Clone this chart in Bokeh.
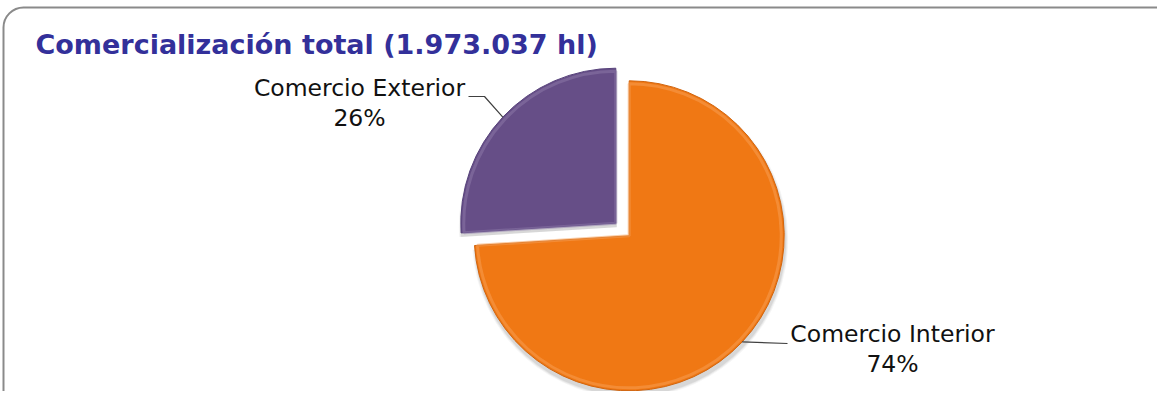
import numpy as np
from bokeh.plotting import figure
from bokeh.models import Range1d
from bokeh.core.properties import value
from bokeh.embed import file_html
from bokeh.resources import INLINE

# ---- data ----
title_text = "Comercialización total (1.973.037 hl)"
categories = ["Comercio Interior", "Comercio Exterior"]
shares = [74, 26]
colors = ["#F07814", "#664E87"]
rim_dark = ["#D0640E", "#56417A"]
rim_light = ["#F8A055", "#8D7AAA"]

# ---- layout (reference pixel coordinates) ----
W, H = 1157, 391


def Y(py):
    return H - py


p = figure(width=W, height=H, output_backend="svg", toolbar_location=None,
           x_range=Range1d(0, W), y_range=Range1d(0, H),
           x_axis_location=None, y_axis_location=None, min_border=0)
p.grid.visible = False
p.outline_line_color = None
p.background_fill_color = "white"
p.border_fill_color = "white"

# rounded frame
p.quad(left=3, right=1182, top=Y(7), bottom=Y(420), fill_color=None,
       line_color="#8A8A8A", line_width=2, border_radius=20)

# pie geometry
vals = np.array(shares, dtype=float)
frac = vals / vals.sum()
cum = np.concatenate([[0], np.cumsum(frac)[:-1]])
start = np.radians(90 - (cum + frac) * 360)
end = np.radians(90 - cum * 360)
mid = (start + end) / 2
base_x, base_y = 622, Y(229)
explode = 9.2
R = 155
cx = base_x + explode * np.cos(mid)
cy = base_y + explode * np.sin(mid)

# soft shadow
for k, a in [(6, 0.04), (4, 0.05), (2, 0.07)]:
    p.wedge(x=cx + 1, y=cy - 4, radius=R + k * 0.5, start_angle=start, end_angle=end,
            fill_color="black", fill_alpha=a, line_color=None)

# slices with a light bevel
p.wedge(x=cx, y=cy, radius=R, start_angle=start, end_angle=end,
        fill_color=colors, line_color=rim_dark, line_width=1)
p.wedge(x=cx, y=cy, radius=R - 3, start_angle=start, end_angle=end,
        fill_color=None, line_color=rim_light, line_width=3, line_alpha=0.5)

# labels
label_pos = {"Comercio Interior": (892, 333), "Comercio Exterior": (359, 87)}
line_gap = 30
for i, cat in enumerate(categories):
    lx, ly = label_pos[cat]
    p.text(x=[lx, lx], y=[Y(ly), Y(ly + line_gap)],
           text=[cat, f"{shares[i]}%"], text_align="center", text_baseline="middle",
           text_font=value("DejaVu Sans"), text_font_size="23.5px", text_color="#111111")

# leader lines from the arc mid-points
ax = cx + R * np.cos(mid)
ay = cy + R * np.sin(mid)
p.line(x=[ax[0], 787], y=[ay[0], Y(343)], line_color="#404040", line_width=1.2)
p.line(x=[ax[1], 484, 468], y=[ay[1], Y(96), Y(96)], line_color="#404040", line_width=1.2)

# title
p.text(x=[35], y=[Y(44)], text=[title_text], text_align="left", text_baseline="middle",
       text_font=value("DejaVu Sans"), text_font_size="27px", text_font_style="bold",
       text_color="#33309A")

open("out.html", "w").write(file_html(p, INLINE))
